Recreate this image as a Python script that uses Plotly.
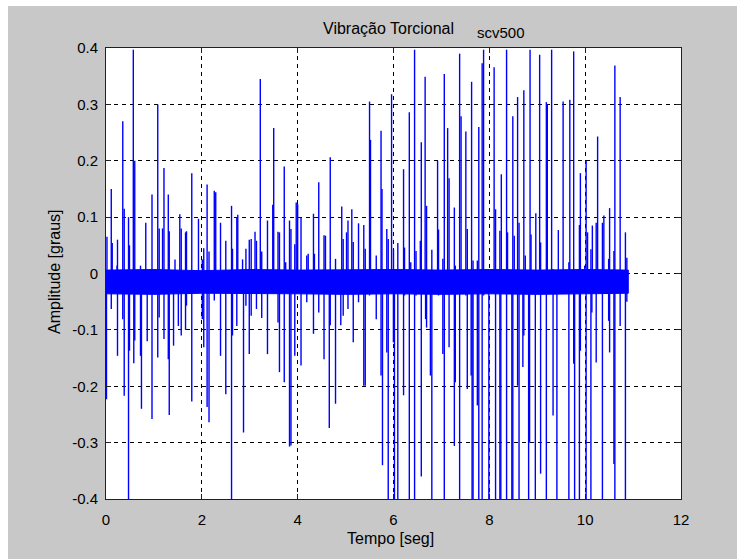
import plotly.graph_objects as go

# ---- data ----
# positive spike excursions (time [s], amplitude [graus])
pos_t = [0.02, 0.11, 0.13, 0.23, 0.24, 0.35, 0.38, 0.47, 0.49, 0.57,
         0.60, 0.72, 0.83, 0.96, 1.08, 1.11, 1.18, 1.21, 1.30, 1.32,
         1.44, 1.54, 1.57, 1.66, 1.68, 1.79, 1.93, 2.01, 2.04, 2.11,
         2.15, 2.26, 2.29, 2.39, 2.50, 2.62, 2.64, 2.73, 2.75, 2.85,
         2.92, 2.99,
         3.03, 3.11, 3.14, 3.22, 3.25, 3.37, 3.48, 3.50, 3.59,
         3.62, 3.72, 3.75, 3.83, 3.86, 3.94, 3.97, 4.00, 4.07, 4.19,
         4.22, 4.33, 4.35, 4.44, 4.55, 4.58, 4.68, 4.79, 4.92, 4.95,
         5.02, 5.05, 5.13, 5.16, 5.27, 5.38, 5.41, 5.50, 5.52, 5.64,
         5.74, 5.76, 5.86, 5.89, 5.96, 6.00,
         6.09, 6.21, 6.23, 6.33, 6.36, 6.44, 6.47, 6.56, 6.58, 6.66,
         6.69, 6.80, 6.92, 6.94, 7.03, 7.06, 7.13, 7.16, 7.27, 7.29,
         7.38, 7.41, 7.51, 7.54, 7.63, 7.66, 7.75, 7.78, 7.85, 7.88,
         7.99, 8.10, 8.13, 8.22, 8.25, 8.36, 8.38, 8.49, 8.52, 8.59,
         8.62, 8.72, 8.75, 8.85, 8.87, 8.97,
         9.05, 9.07, 9.19, 9.21, 9.30, 9.33, 9.44, 9.54, 9.66, 9.68,
         9.76, 9.88, 9.90, 9.99, 10.02, 10.05, 10.12, 10.15, 10.23, 10.26,
         10.36, 10.39, 10.49, 10.51, 10.60, 10.62, 10.73, 10.84, 10.87]
pos_v = [0.065, 0.15, 0.054, 0.014, 0.06, 0.27, 0.115, 0.10, 0.05, 0.397,
         0.20, 0.014, 0.09, 0.14, 0.30, 0.08, 0.08, 0.187, 0.14, 0.075,
         0.025, 0.105, 0.08, 0.073, 0.075, 0.178, 0.097, 0.025, 0.045, 0.158,
         0.039, 0.147, 0.144, 0.09, 0.058, 0.12, 0.044, 0.10, 0.104, 0.025,
         0.044, 0.06,
         0.061, 0.074, 0.058, 0.345, 0.039, 0.094, 0.122, 0.258, 0.074,
         0.073, 0.19, 0.02, 0.094, 0.079, 0.052, 0.126, 0.123, 0.10, 0.032,
         0.035, 0.106, 0.035, 0.162, 0.068, 0.067, 0.206, 0.026, 0.119, 0.061,
         0.073, 0.094, 0.114, 0.056, 0.089, 0.086, 0.044, 0.305, 0.237, 0.032,
         0.253, 0.15, 0.079, 0.061, 0.318, 0.043,
         0.054, 0.185, 0.046, 0.286, 0.02, 0.397, 0.04, 0.058, 0.233, 0.349,
         0.12, 0.042, 0.20, 0.078, 0.026, 0.354, 0.258, 0.169, 0.117, 0.014,
         0.39, 0.279, 0.252, 0.079, 0.34, 0.023, 0.023, 0.26, 0.373, 0.397,
         0.005, 0.366, 0.114, 0.076, 0.176, 0.397, 0.073, 0.279, 0.067, 0.313,
         0.09, 0.325, 0.032, 0.397, 0.069, 0.107,
         0.388, 0.055, 0.304, 0.30, 0.397, 0.008, 0.077, 0.305, 0.02, 0.308,
         0.394, 0.086, 0.178, 0.014, 0.20, 0.073, 0.043, 0.085, 0.09, 0.243,
         0.09, 0.103, 0.026, 0.116, 0.04, 0.369, 0.313, 0.073, 0.028]

# negative spike excursions (values below -0.4 run off the axes)
neg_t = [0.01, 0.11, 0.24, 0.35, 0.38, 0.47, 0.49, 0.58, 0.60, 0.72,
         0.74, 0.86, 0.96, 1.08, 1.11, 1.21, 1.30, 1.32, 1.41, 1.51,
         1.57, 1.66, 1.68, 1.79, 2.01, 2.04, 2.11, 2.15, 2.26, 2.39,
         2.50, 2.62, 2.64, 2.73, 2.87, 2.92, 2.99,
         3.03, 3.14, 3.25, 3.37, 3.59, 3.62, 3.72, 3.83, 3.86, 3.94,
         4.07, 4.19, 4.33, 4.44, 4.55, 4.66, 4.68, 4.79, 4.90, 4.95,
         5.05, 5.16, 5.27, 5.38, 5.41, 5.50, 5.64, 5.74, 5.77, 5.86,
         5.89, 5.998, 6.02,
         6.09, 6.21, 6.23, 6.33, 6.44, 6.47, 6.58, 6.67, 6.69, 6.77,
         6.80, 6.94, 7.03, 7.06, 7.16, 7.27, 7.29, 7.38, 7.51, 7.54,
         7.62, 7.64, 7.66, 7.75, 7.78, 7.85, 7.88, 7.99, 8.13, 8.22,
         8.24, 8.36, 8.47, 8.49, 8.59, 8.62, 8.70, 8.72, 8.82, 8.84, 8.96,
         9.07, 9.19, 9.33, 9.41, 9.66, 9.76, 9.78, 9.88, 9.90, 10.02,
         10.12, 10.14, 10.23, 10.36, 10.49, 10.51, 10.60, 10.62, 10.73, 10.84,
         10.87]
neg_v = [-0.223, -0.063, -0.146, -0.081, -0.217, -0.45, -0.137, -0.159, -0.119, -0.146,
         -0.24, -0.12, -0.258, -0.149, -0.078, -0.116, -0.152, -0.251, -0.128, -0.093,
         -0.11, -0.10, -0.057, -0.227, -0.081, -0.131, -0.237, -0.264, -0.048, -0.146,
         -0.214, -0.45, -0.11, -0.093, -0.282, -0.057, -0.143,
         -0.075, -0.063, -0.079, -0.143, -0.087, -0.175, -0.193, -0.307, -0.305, -0.146,
         -0.163, -0.051, -0.107, -0.069, -0.152, -0.274, -0.092, -0.231, -0.092, -0.075,
         -0.063, -0.122, -0.051, -0.199, -0.199, -0.039, -0.081, -0.181, -0.34, -0.14,
         -0.45, -0.122, -0.45,
         -0.45, -0.216, -0.039, -0.45, -0.45, -0.039, -0.36, -0.081, -0.096, -0.181,
         -0.45, -0.039, -0.143, -0.45, -0.131, -0.306, -0.193, -0.45, -0.039, -0.205,
         -0.181, -0.45, -0.45, -0.234, -0.45, -0.45, -0.039, -0.45, -0.45, -0.45,
         -0.45, -0.45, -0.45, -0.45, -0.199, -0.45, -0.166, -0.11, -0.45, -0.30, -0.45,
         -0.355, -0.45, -0.252, -0.45, -0.45, -0.16, -0.45, -0.45, -0.137, -0.45,
         -0.45, -0.069, -0.158, -0.45, -0.084, -0.14, -0.338, -0.45, -0.093, -0.45,
         -0.05]

# envelope of the dense background vibration band
band_t = [0.0, 1.0, 2.0, 3.0, 4.0, 5.0, 6.0, 7.0, 8.0, 9.0, 10.0, 10.9]
band_hi = [0.006, 0.007, 0.005, 0.007, 0.006, 0.007, 0.007, 0.006, 0.007, 0.006, 0.007, 0.006]
band_lo = [-0.036, -0.037, -0.035, -0.036, -0.036, -0.037, -0.036, -0.037, -0.036, -0.037, -0.036, -0.035]
baseline = -0.016

x_ticks = [0, 2, 4, 6, 8, 10, 12]
x_ticklabels = ["0", "2", "4", "6", "8", "10", "12"]
y_ticks = [-0.4, -0.3, -0.2, -0.1, 0, 0.1, 0.2, 0.3, 0.4]
y_ticklabels = ["-0.4", "-0.3", "-0.2", "-0.1", "0", "0.1", "0.2", "0.3", "0.4"]

assert len(pos_t) == len(pos_v) and len(neg_t) == len(neg_v)

# ---- build figure ----
BLUE = "#0000ff"
FONT = "Liberation Sans"

fig = go.Figure()

fig.add_trace(go.Scatter(
    x=band_t + band_t[::-1], y=band_hi + band_lo[::-1],
    fill="toself", fillcolor=BLUE, mode="lines",
    line=dict(color=BLUE, width=1), hoverinfo="skip", showlegend=False))

xs, ys = [], []
for t, v in sorted(zip(pos_t + neg_t, pos_v + neg_v)):
    xs += [t, t, None]
    ys += [baseline, v, None]
fig.add_trace(go.Scatter(x=xs, y=ys, mode="lines",
                         line=dict(color=BLUE, width=1.4),
                         showlegend=False, connectgaps=False))

L, R, T, B = 106, 56, 48, 60
W, H = 737, 559
pw, ph = W - L - R, H - T - B

def px(xp):
    return (xp - L) / pw

def py(yp):
    return (H - B - yp) / ph

axis_common = dict(
    showline=True, linecolor="#202020", linewidth=1, mirror="ticks",
    ticks="inside", ticklen=5, tickcolor="#202020",
    showgrid=True, gridcolor="#000000", gridwidth=1.2, griddash="4px,4px",
    zeroline=False, tickfont=dict(family=FONT, size=15, color="black"),
)

fig.update_xaxes(range=[0, 12], tickvals=x_ticks, ticktext=x_ticklabels,
                 ticklabelstandoff=7, **axis_common)
fig.update_yaxes(range=[-0.4, 0.4], tickvals=y_ticks, ticktext=y_ticklabels,
                 ticklabelstandoff=4, **axis_common)

GRAY = "#c8c8c8"
fig.update_layout(
    width=W, height=H,
    margin=dict(l=L, r=R, t=T, b=B, pad=0),
    paper_bgcolor=GRAY, plot_bgcolor="white",
    font=dict(family=FONT, size=16, color="black"),
    showlegend=False,
    shapes=[
        dict(type="rect", xref="paper", yref="paper", x0=px(-5), x1=px(8),
             y0=py(H + 5), y1=py(-5), fillcolor="white", line=dict(width=0), layer="below"),
        dict(type="rect", xref="paper", yref="paper", x0=px(-5), x1=px(W + 5),
             y0=py(6), y1=py(-5), fillcolor="white", line=dict(width=0), layer="below"),
    ],
    annotations=[
        dict(text="Vibração Torcional", x=px(388), y=py(29), xref="paper", yref="paper",
             xanchor="center", yanchor="middle", showarrow=False, font=dict(size=16)),
        dict(text="scv500", x=px(501), y=py(32), xref="paper", yref="paper",
             xanchor="center", yanchor="middle", showarrow=False, font=dict(size=15)),
        dict(text="Tempo [seg]", x=px(390), y=py(538), xref="paper", yref="paper",
             xanchor="center", yanchor="middle", showarrow=False, font=dict(size=16)),
        dict(text="Amplitude [graus]", x=px(54), y=py(272), xref="paper", yref="paper",
             xanchor="center", yanchor="middle", showarrow=False, textangle=-90,
             font=dict(size=16)),
    ],
)

fig.write_html("out.html")
